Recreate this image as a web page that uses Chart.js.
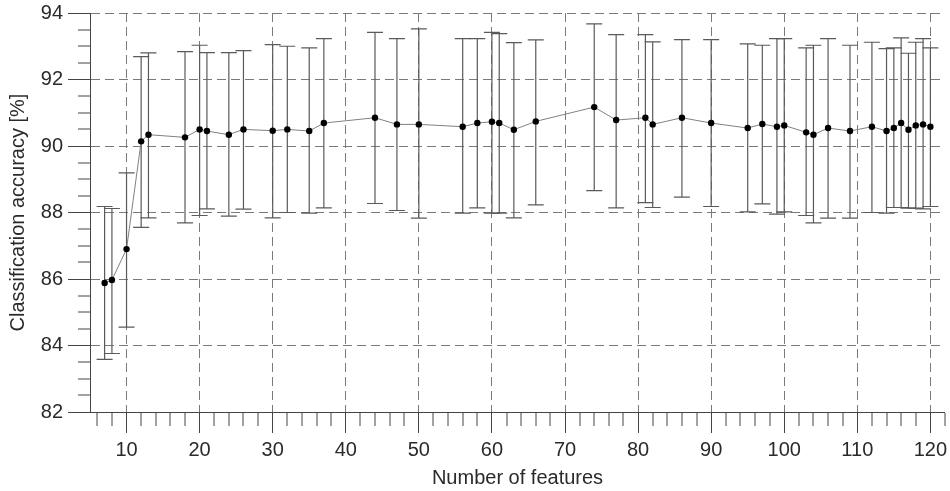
<!DOCTYPE html>
<html>
<head>
<meta charset="utf-8">
<script src="https://cdn.jsdelivr.net/npm/chart.js@4/dist/chart.umd.min.js"></script>
<style>
  html, body { margin: 0; padding: 0; background: #ffffff; }
  #wrap { width: 950px; height: 491px; }
</style>
</head>
<body>
<div id="wrap"><canvas id="c" width="950" height="491"></canvas></div>
<script>
const features = [7,8,10,12,13,18,20,21,24,26,30,32,35,37,44,47,50,56,58,60,61,63,66,74,77,81,82,86,90,95,97,99,100,103,104,106,109,112,114,115,116,117,118,119,120];
const accuracy = [85.88,85.97,86.90,90.14,90.34,90.26,90.50,90.45,90.34,90.50,90.46,90.50,90.45,90.69,90.85,90.65,90.65,90.58,90.69,90.73,90.69,90.49,90.74,91.17,90.78,90.85,90.65,90.85,90.69,90.54,90.66,90.58,90.62,90.41,90.34,90.54,90.45,90.58,90.45,90.54,90.69,90.49,90.62,90.65,90.58];
const upper = [88.18,88.12,89.19,92.69,92.80,92.84,93.03,92.81,92.81,92.87,93.05,93.00,92.95,93.23,93.42,93.23,93.52,93.23,93.23,93.42,93.38,93.11,93.19,93.67,93.35,93.35,93.13,93.20,93.20,93.07,93.03,93.23,93.23,92.95,93.03,93.23,93.03,93.12,92.93,92.95,93.25,92.79,93.12,93.23,92.95];
const lower = [83.58,83.76,84.55,87.55,87.84,87.69,87.91,88.11,87.89,88.10,87.84,88.00,87.98,88.14,88.27,88.06,87.83,87.98,88.14,87.98,87.98,87.84,88.23,88.66,88.14,88.30,88.15,88.46,88.18,88.02,88.26,87.95,88.02,87.91,87.69,87.83,87.83,88.00,87.98,88.15,88.15,88.13,88.13,88.11,88.18];
const xTickLabels = [10,20,30,40,50,60,70,80,90,100,110,120];
const yTickLabels = [82,84,86,88,90,92,94];

const FONT = "'Liberation Sans', Arial, sans-serif";
const TEXT = '#2a2a2a';
const AXIS = '#444444';
const GRID = '#7a7a7a';

const points = features.map((f, i) => ({x: f, y: accuracy[i]}));

const errorBars = {
  id: 'errorBars',
  beforeDatasetsDraw(chart) {
    const ctx = chart.ctx;
    const xs = chart.scales.x, ys = chart.scales.y;
    const cap = 8;
    ctx.save();
    ctx.strokeStyle = '#5a5a5a';
    ctx.lineWidth = 1.2;
    features.forEach((f, i) => {
      const px = xs.getPixelForValue(f);
      const pt = ys.getPixelForValue(upper[i]);
      const pb = ys.getPixelForValue(lower[i]);
      ctx.beginPath();
      ctx.moveTo(px, pt); ctx.lineTo(px, pb);
      ctx.moveTo(px - cap, pt); ctx.lineTo(px + cap, pt);
      ctx.moveTo(px - cap, pb); ctx.lineTo(px + cap, pb);
      ctx.stroke();
    });
    ctx.restore();
  }
};

const isMajorX = v => xTickLabels.includes(v);
const isMajorY = v => yTickLabels.includes(v);

new Chart(document.getElementById('c'), {
  type: 'scatter',
  data: {
    datasets: [{
      data: points,
      showLine: true,
      borderColor: '#808080',
      borderWidth: 1,
      pointRadius: 3.2,
      pointBackgroundColor: '#000000',
      pointBorderColor: '#000000',
      pointBorderWidth: 0,
      tension: 0
    }]
  },
  options: {
    responsive: false,
    animation: false,
    layout: { padding: { left: 0, right: 5, top: 13, bottom: 0 } },
    plugins: { legend: { display: false }, tooltip: { enabled: false } },
    scales: {
      x: {
        type: 'linear',
        min: 5, max: 122,
        afterFit: s => { s.height = 79; s.paddingLeft = 0; s.paddingRight = 0; },
        border: { display: true, color: AXIS, width: 1, dash: [9, 5] },
        grid: {
          color: c => isMajorX(c.tick.value) ? GRID : 'transparent',
          lineWidth: c => isMajorX(c.tick.value) ? 1 : 0,
          tickColor: AXIS,
          tickWidth: 1,
          tickLength: 21,
          tickBorderDash: c => isMajorX(c.tick.value) ? [] : [13, 100]
        },
        ticks: {
          stepSize: 2,
          includeBounds: false,
          autoSkip: false,
          maxRotation: 0,
          padding: 5,
          color: TEXT,
          font: { family: FONT, size: 20 },
          callback: v => isMajorX(v) ? String(v) : ''
        },
        title: {
          display: true,
          text: 'Number of features',
          color: TEXT,
          font: { family: FONT, size: 20 },
          padding: { top: 0, bottom: 1 }
        }
      },
      y: {
        type: 'linear',
        min: 82, max: 94,
        afterFit: s => { s.width = 90; s.paddingTop = 0; s.paddingBottom = 0; },
        border: { display: true, color: AXIS, width: 1, dash: [9, 5] },
        grid: {
          color: c => isMajorY(c.tick.value) ? GRID : 'transparent',
          lineWidth: c => isMajorY(c.tick.value) ? 1 : 0,
          tickColor: AXIS,
          tickWidth: 1,
          tickLength: 22,
          tickBorderDash: c => isMajorY(c.tick.value) ? [] : [0, 10, 12, 100]
        },
        ticks: {
          stepSize: 0.5,
          autoSkip: false,
          padding: 5,
          color: TEXT,
          font: { family: FONT, size: 20 },
          callback: v => isMajorY(v) ? String(v) : ''
        },
        title: {
          display: true,
          text: 'Classification accuracy [%]',
          color: TEXT,
          font: { family: FONT, size: 20 },
          padding: { top: 6, bottom: 0 }
        }
      }
    }
  },
  plugins: [errorBars]
});
</script>
</body>
</html>
